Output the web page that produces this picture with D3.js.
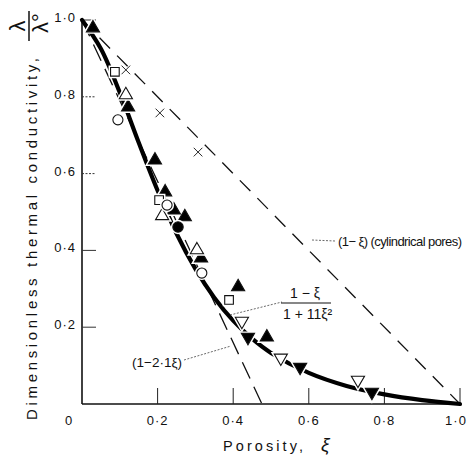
<!DOCTYPE html>
<html>
<head>
<meta charset="utf-8">
<script src="https://cdn.jsdelivr.net/npm/d3@7"></script>
<style>
  body { margin: 0; background: #fff; }
  svg text { font-family: "Liberation Sans", "DejaVu Sans", sans-serif; fill: #111; }
</style>
</head>
<body>
<div id="chart"></div>
<script>
// porosity values and conductivity values for the theoretical curve (1-ξ)/(1+11ξ²)
const curveXi = [0, 0.05, 0.1, 0.15, 0.2, 0.25, 0.3, 0.35, 0.4, 0.45, 0.5, 0.6, 0.7, 0.8, 0.9, 1.0];
const curveK  = [1, 0.925, 0.811, 0.681, 0.556, 0.444, 0.352, 0.277, 0.217, 0.170, 0.133, 0.081, 0.047, 0.025, 0.010, 0];

// straight-line models
const cylXi = [0, 1];
const cylK = [1, 0];
const linXi = [0, 0.476];
const linK = [1, 0];

// measured points, one list per symbol
const triUpFilled = [[0.029, 0.979], [0.122, 0.773], [0.193, 0.635], [0.22, 0.552], [0.243, 0.505],
                     [0.272, 0.487], [0.315, 0.38], [0.413, 0.305], [0.489, 0.174]];
const triUpOpen = [[0.116, 0.805], [0.212, 0.49], [0.304, 0.401]];
const squareOpen = [[0.087, 0.865], [0.204, 0.531], [0.389, 0.271]];
const crossPts = [[0.116, 0.87], [0.206, 0.758], [0.307, 0.656]];
const circleOpen = [[0.095, 0.74], [0.225, 0.518], [0.317, 0.341]];
const circleFilled = [[0.254, 0.461]];
const triDownOpen = [[0.423, 0.216], [0.526, 0.12], [0.73, 0.0625]];
const triDownFilled = [[0.439, 0.174], [0.577, 0.096], [0.767, 0.031]];

const xTicks = [0, 0.2, 0.4, 0.6, 0.8, 1.0];
const xTickLabels = ["0", "0·2", "0·4", "0·6", "0·8", "1·0"];
const yTicks = [0.2, 0.4, 0.6, 0.8, 1.0];
const yTickLabels = ["0·2", "0·4", "0·6", "0·8", "1·0"];

const width = 472, height = 464;
const svg = d3.select("#chart").append("svg")
    .attr("width", width)
    .attr("height", height);

const x = d3.scaleLinear().domain([0, 1]).range([82, 460]);
const y = d3.scaleLinear().domain([0, 1]).range([404, 20]);

// axes: plain lines with inward ticks
svg.append("line")
    .attr("x1", x(0)).attr("x2", x(1)).attr("y1", y(0)).attr("y2", y(0))
    .attr("stroke", "#111").attr("stroke-width", 1.6);
svg.append("line")
    .attr("x1", x(0)).attr("x2", x(0)).attr("y1", y(0)).attr("y2", y(1))
    .attr("stroke", "#111").attr("stroke-width", 1.6);

svg.selectAll(".xtick")
    .data(xTicks.slice(1))
    .enter().append("line")
    .attr("x1", d => x(d)).attr("x2", d => x(d))
    .attr("y1", y(0)).attr("y2", y(0) - 16)
    .attr("stroke", "#222").attr("stroke-width", 1);

svg.selectAll(".ytick")
    .data(yTicks)
    .enter().append("line")
    .attr("x1", x(0)).attr("x2", x(0) + 14)
    .attr("y1", d => y(d)).attr("y2", d => y(d))
    .attr("stroke", "#333").attr("stroke-width", 1)
    .attr("stroke-dasharray", d => (d === 0.8 || d === 0.6) ? "2,1.5" : null);

svg.selectAll(".xlabel")
    .data(xTicks)
    .enter().append("text")
    .attr("x", (d, i) => i === 0 ? x(d) - 13 : x(d) - (i === 5 ? 4 : 0))
    .attr("y", 425)
    .attr("text-anchor", "middle")
    .attr("font-size", 13)
    .attr("letter-spacing", 1)
    .text((d, i) => xTickLabels[i]);

svg.selectAll(".ylabel")
    .data(yTicks)
    .enter().append("text")
    .attr("x", 76)
    .attr("y", d => y(d) + 2)
    .attr("text-anchor", "end")
    .attr("font-size", 13)
    .attr("letter-spacing", 1)
    .text((d, i) => yTickLabels[i]);

// axis titles
svg.append("text")
    .attr("transform", "translate(37,239) rotate(-90)")
    .attr("text-anchor", "middle")
    .attr("font-size", 15)
    .attr("textLength", 362)
    .attr("lengthAdjust", "spacing")
    .text("Dimensionless thermal conductivity,");

const frac = svg.append("g").attr("transform", "translate(29,26) rotate(-90)");
frac.append("line")
    .attr("x1", -15).attr("x2", 15).attr("y1", 0).attr("y2", 0)
    .attr("stroke", "#111").attr("stroke-width", 1.5);
frac.append("text").attr("x", 0).attr("y", -4)
    .attr("text-anchor", "middle").attr("font-size", 22).text("λ");
frac.append("text").attr("x", 3).attr("y", 19)
    .attr("text-anchor", "middle").attr("font-size", 22).text("λ°");

svg.append("text")
    .attr("x", 223).attr("y", 451)
    .attr("font-size", 14.5)
    .attr("textLength", 80)
    .attr("lengthAdjust", "spacing")
    .text("Porosity,");
svg.append("text")
    .attr("x", 321).attr("y", 451)
    .attr("font-size", 19)
    .attr("font-style", "italic")
    .text("ξ");

// model lines
const line = d3.line().x(d => x(d[0])).y(d => y(d[1]));

svg.append("path")
    .datum(cylXi.map((v, i) => [v, cylK[i]]))
    .attr("fill", "none").attr("stroke", "#111").attr("stroke-width", 1.3)
    .attr("stroke-dasharray", "15,10")
    .attr("d", line);

svg.append("path")
    .datum(linXi.map((v, i) => [v, linK[i]]))
    .attr("fill", "none").attr("stroke", "#111").attr("stroke-width", 1.3)
    .attr("stroke-dasharray", "18,9")
    .attr("d", line);

svg.append("path")
    .datum(curveXi.map((v, i) => [v, curveK[i]]))
    .attr("fill", "none").attr("stroke", "#000").attr("stroke-width", 4.2)
    .attr("stroke-linecap", "round")
    .attr("d", line.curve(d3.curveCatmullRom));

// annotation leaders
const leaders = [
    [[312, 240], [335, 241]],
    [[230, 315], [282, 302]],
    [[184, 360], [231, 346]]
];
svg.selectAll(".leader")
    .data(leaders)
    .enter().append("path")
    .attr("d", d => d3.line()(d))
    .attr("stroke", "#444").attr("stroke-width", 0.8)
    .attr("stroke-dasharray", "2,1.5")
    .attr("fill", "none");

svg.append("text")
    .attr("x", 338).attr("y", 246)
    .attr("font-size", 13)
    .attr("textLength", 124)
    .attr("lengthAdjust", "spacing")
    .text("(1− ξ)  (cylindrical pores)");

svg.append("text")
    .attr("x", 305).attr("y", 298)
    .attr("text-anchor", "middle").attr("font-size", 14)
    .text("1 − ξ");
svg.append("line")
    .attr("x1", 281).attr("x2", 331).attr("y1", 303).attr("y2", 303)
    .attr("stroke", "#111").attr("stroke-width", 1.2);
svg.append("text")
    .attr("x", 283).attr("y", 319).attr("font-size", 14)
    .text("1 + 11ξ²");

svg.append("text")
    .attr("x", 182).attr("y", 367)
    .attr("text-anchor", "end").attr("font-size", 13.5)
    .text("(1−2·1ξ)");

// markers
const sets = [
    { data: triUpFilled, type: d3.symbolTriangle, size: 75, fill: "#000", rot: 0 },
    { data: triUpOpen, type: d3.symbolTriangle, size: 75, fill: "#fff", rot: 0 },
    { data: squareOpen, type: d3.symbolSquare, size: 75, fill: "#fff", rot: 0 },
    { data: crossPts, type: d3.symbolX, size: 50, fill: "none", rot: 0 },
    { data: circleOpen, type: d3.symbolCircle, size: 80, fill: "#fff", rot: 0 },
    { data: circleFilled, type: d3.symbolCircle, size: 85, fill: "#000", rot: 0 },
    { data: triDownOpen, type: d3.symbolTriangle, size: 75, fill: "#fff", rot: 180 },
    { data: triDownFilled, type: d3.symbolTriangle, size: 75, fill: "#000", rot: 180 }
];

sets.forEach(s => {
    const sym = d3.symbol().type(s.type).size(s.size);
    const g = svg.append("g");
    // white halo breaks the curve behind each symbol
    if (s.fill !== "none") {
        g.selectAll(".halo")
            .data(s.data)
            .enter().append("path")
            .attr("d", sym)
            .attr("transform", d => `translate(${x(d[0])},${y(d[1])}) rotate(${s.rot})`)
            .attr("fill", "#fff").attr("stroke", "#fff").attr("stroke-width", 4);
    }
    g.selectAll(".mark")
        .data(s.data)
        .enter().append("path")
        .attr("d", sym)
        .attr("transform", d => `translate(${x(d[0])},${y(d[1])}) rotate(${s.rot})`)
        .attr("fill", s.fill)
        .attr("stroke", "#111")
        .attr("stroke-width", s.type === d3.symbolX ? 0.9 : 1.1);
});
</script>
</body>
</html>
